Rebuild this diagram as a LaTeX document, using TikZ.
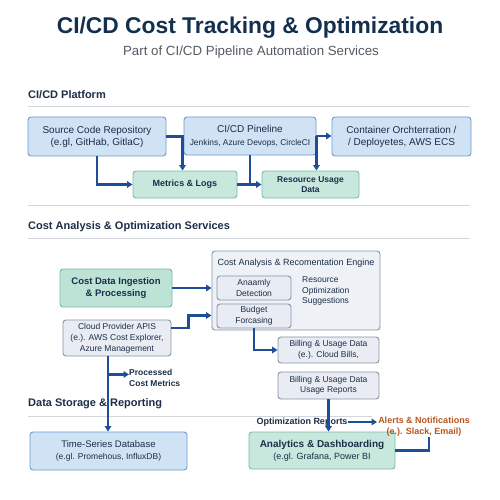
\documentclass[tikz,border=0pt]{standalone}
\usepackage{fontspec}
\setmainfont{Liberation Sans}
\usetikzlibrary{arrows.meta,calc}
\definecolor{navy}{HTML}{14304F}
\definecolor{txt}{HTML}{1C2E48}
\definecolor{subgray}{HTML}{555B63}
\definecolor{rule}{HTML}{D3D7DD}
\definecolor{bluefill}{HTML}{CFE3F5}
\definecolor{blueline}{HTML}{6E9BCB}
\definecolor{greenfill}{HTML}{C8E8DD}
\definecolor{greenfilldark}{HTML}{BDE3D7}
\definecolor{greenline}{HTML}{79BCA5}
\definecolor{grayfill}{HTML}{E9EDF3}
\definecolor{grayline}{HTML}{8595AC}
\definecolor{engfill}{HTML}{EEF1F6}
\definecolor{arrowblue}{HTML}{1F4E98}
\definecolor{orangetxt}{HTML}{B8561C}
\begin{document}
\begin{tikzpicture}[x=1pt,y=-1pt,
  box/.style={draw, rounded corners=3pt, line width=0.9pt, inner sep=0pt, align=center, text=txt},
  bluebox/.style={box, fill=bluefill, draw=blueline},
  greenbox/.style={box, fill=greenfill, draw=greenline},
  graybox/.style={box, fill=grayfill, draw=grayline},
  heading/.style={anchor=west, inner sep=0pt, text=txt, font=\fontsize{11}{13}\selectfont\bfseries},
  rulel/.style={draw=rule, line width=0.9pt},
  conn/.style={draw=arrowblue, line width=2.3pt},
  arr/.style={conn, -{Triangle[length=5.5pt,width=6.5pt]}},
  f10/.style={font=\fontsize{10}{12}\selectfont},
  f9/.style={font=\fontsize{9}{11}\selectfont},
  f85/.style={font=\fontsize{8.5}{10.5}\selectfont},
]
\useasboundingbox (0,0) rectangle (500,500);
\fill[white] (0,0) rectangle (500,500);

% Title
\node[text=navy, font=\fontsize{22.8}{26}\selectfont\bfseries, inner sep=0pt] (title) at (250,28) {CI/CD Cost Tracking \& Optimization};
\node[text=subgray, font=\fontsize{13.3}{15}\selectfont, inner sep=0pt] (subtitle) at (251,52) {Part of CI/CD Pipeline Automation Services};

% Section 1
\node[heading] (h1) at (28,95) {CI/CD Platform};
\draw[rulel] (28,106) -- (470,106);
\draw[rulel] (28,205) -- (470,205);

\node[bluebox, minimum width=138pt, minimum height=39pt, f10] (src) at (97,136.5) {Source Code Repository\\(e.gl, GitHab, GitlaC)};
\node[bluebox, minimum width=132pt, minimum height=38pt] (pipe) at (250,136) {{\fontsize{10}{12}\selectfont CI/CD Pineline}\\[1pt]{\fontsize{8.4}{10}\selectfont Jenkins, Azure Devops, CircleCI}};
\node[bluebox, minimum width=139pt, minimum height=39pt, f10] (cont) at (401.5,136.5) {Container Orchterration /\\/ Deployetes, AWS ECS};
\node[greenbox, minimum width=104pt, minimum height=27pt, font=\fontsize{9}{11}\selectfont\bfseries] (metrics) at (185,184.5) {Metrics \& Logs};
\node[greenbox, minimum width=97pt, minimum height=27pt, font=\fontsize{8.5}{10}\selectfont\bfseries] (res) at (310.5,184.5) {Resource Usage\\Data};

\draw[arr] (src.east) -| ([xshift=50pt]metrics.north west);
\draw[arr] (src.south) |- (metrics.west);
\draw[conn] (pipe.south) -- (pipe.south |- res.west);
\draw[arr] (metrics.east) -- (res.west);
\draw[arr] (pipe.east) -- (pipe.east -| cont.west);
\draw[arr] (pipe.east) -- (pipe.east |- res.north);

% Section 2
\node[heading] (h2) at (28,227) {Cost Analysis \& Optimization Services};
\draw[rulel] (28,238) -- (470,238);

\node[box, fill=engfill, draw=grayline, minimum width=168pt, minimum height=79pt] (engine) at (296,290.5) {};
\node[inner sep=0pt, text=txt, f9] (engtitle) at (296,263.5) {Cost Analysis \& Recomentation Engine};
\node[graybox, minimum width=74pt, minimum height=24pt, f85] (anom) at (254,288) {Anaamly\\Detection};
\node[graybox, minimum width=74pt, minimum height=24pt, f85] (budget) at (254,316) {Budget\\Forcasing};
\node[anchor=west, align=left, inner sep=0pt, text=txt, font=\fontsize{8.5}{10.5}\selectfont] (sugg) at (302,291) {Resource\\Optimization\\Suggestions};
\node[graybox, minimum width=101pt, minimum height=26pt, f85] (bill1) at (328.5,350) {Billing \& Usage Data\\(e.). Cloud Bills,};
\node[graybox, minimum width=101pt, minimum height=27pt, f85] (bill2) at (328.5,385.5) {Billing \& Usage Data\\Usage Reports};

\node[greenbox, fill=greenfilldark, minimum width=112pt, minimum height=38pt, font=\fontsize{9.5}{12}\selectfont\bfseries] (ingest) at (116,288) {Cost Data Ingestion\\\& Processing};
\node[graybox, minimum width=108pt, minimum height=36pt, font=\fontsize{8.5}{11}\selectfont] (cloud) at (117,338) {Cloud Provider APIS\\(e.). AWS Cost Explorer,\\Azure Management};

\draw[arr] (ingest.east) -- (ingest.east -| engine.west);
\coordinate (cbend) at ([yshift=10pt]cloud.east);
\draw[arr] (cbend) -- ++(17,0) |- ([yshift=-25pt]engine.west);
\draw[arr] (budget.south) |- (bill1.west);

\node[anchor=north west, align=left, inner sep=0pt, text=txt, font=\fontsize{8.5}{11}\selectfont\bfseries] (proc) at (129,369) {Processed\\Cost Metrics};

% Section 3
\node[heading] (h3) at (28,404) {Data Storage \& Reporting};
\draw[rulel] (28,416) -- (372,416);

\node[bluebox, minimum width=157pt, minimum height=38pt] (tsdb) at (108.5,451) {{\fontsize{9.5}{11.5}\selectfont Time-Series Database}\\{\fontsize{8.5}{10.5}\selectfont (e.gl. Promehous, InfluxDB)}};
\node[greenbox, minimum width=146pt, minimum height=37pt] (dash) at (322,450.5) {{\fontsize{10}{12}\selectfont\bfseries Analytics \& Dashboarding}\\{\fontsize{9}{11}\selectfont (e.gl. Grafana, Power BI}};

\node[inner sep=0pt, text=txt, font=\fontsize{9}{11}\selectfont\bfseries] (opt) at (302,422) {Optimization Reports};
\node[inner sep=1pt, align=center, text=orangetxt, font=\fontsize{9}{11}\selectfont\bfseries] (alerts) at (424,426.5) {Alerts \& Notifications\\(e.). Slack, Email)};

\coordinate (cdown) at ([xshift=-9pt]cloud.south);
\draw[arr] (cdown) -- (cdown |- tsdb.north);
\coordinate (branch) at ($(cdown)+(0,18)$);
\draw[arr] (branch) -- (branch -| proc.west);

\draw[arr] (bill2.south) -- (bill2.south |- dash.north);
\draw[arr] (opt.east) -- ([yshift=4.5pt]alerts.west);
\draw[conn] (dash.east) -| ([xshift=5pt]alerts.south);
\end{tikzpicture}
\end{document}
